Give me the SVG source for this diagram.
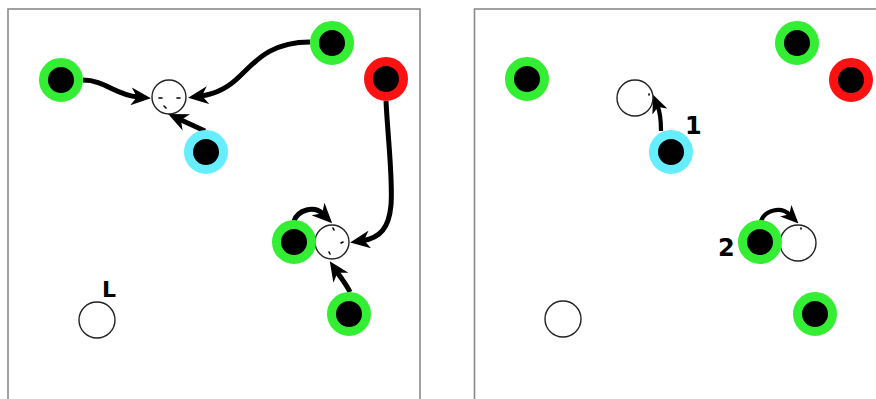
<svg xmlns="http://www.w3.org/2000/svg" width="876" height="399" viewBox="0 0 876 399">
<defs>
<style>
.panel{fill:#fff;stroke:#8a8a8a;stroke-width:1.6}
.robot{fill:#000;stroke-width:9}
.g{stroke:#33ee33}
.r{stroke:#ff1111}
.c{stroke:#66eeff}
.goal{fill:#fff;stroke:#222;stroke-width:1.4}
.edge{fill:none;stroke:#000;stroke-width:5;marker-end:url(#ah)}
.edge2{fill:none;stroke:#000;stroke-width:4.2;marker-end:url(#ah2)}
.tick{stroke:#000;stroke-width:1.6;stroke-linecap:round}
.lbl{font-family:"DejaVu Sans",sans-serif;font-weight:bold;fill:#000}
</style>
<marker id="ah" viewBox="0 0 20 18" markerWidth="20" markerHeight="18" refX="7" refY="9" orient="auto" markerUnits="userSpaceOnUse">
<path d="M0,0 L20,9 L0,18 L6,9 z" fill="#000"/>
</marker>
<marker id="ah2" viewBox="0 0 18 16" markerWidth="18" markerHeight="16" refX="6" refY="8" orient="auto" markerUnits="userSpaceOnUse">
<path d="M0,0 L18,8 L0,16 L5,8 z" fill="#000"/>
</marker>
</defs>
<rect x="0" y="0" width="876" height="399" fill="#fff"/>
<rect class="panel" x="8" y="9" width="412" height="400"/>
<rect class="panel" x="474.5" y="9" width="420" height="400"/>

<g id="connectors">
<path class="edge" d="M 83 80 C 105 80, 115 95, 138 97"/>
<path class="edge" d="M 310 42 C 270 42, 255 62, 240 76 C 228 88, 216 94, 201 96"/>
<path class="edge" d="M 205 131 L 180 119.5"/>
<path class="edge" d="M 386 101 C 388 140, 393 180, 391 205 C 389 228, 380 238, 363 240.5"/>
<path class="edge" d="M 350 292 C 346 284, 341 278, 337 272"/>
<path class="edge" d="M 294 221 C 298 210, 314 205, 323 214"/>
<path class="edge2" d="M 661 131 C 661 120, 660 112, 657.6 106"/>
<path class="edge2" d="M 761 221 C 765 210, 781 206, 790 215"/>
</g>

<g id="left-goal-1">
<circle class="goal" cx="169" cy="97" r="17"/>
<line class="tick" x1="159" y1="98" x2="162" y2="98"/>
<line class="tick" x1="177" y1="98" x2="180" y2="98"/>
<line class="tick" x1="164" y1="106" x2="166" y2="108"/>
</g>
<g id="left-goal-2">
<circle class="goal" cx="332" cy="242" r="17"/>
<line class="tick" x1="333" y1="228" x2="334" y2="230"/>
<line class="tick" x1="341" y1="243" x2="343" y2="242"/>
<line class="tick" x1="329" y1="252" x2="330" y2="254"/>
</g>
<g id="left-L">
<circle class="goal" cx="97" cy="320" r="18"/>
<text class="lbl" x="102" y="297" font-size="22">L</text>
</g>
<g id="left-green-1"><circle class="robot g" cx="61" cy="80" r="17.5"/></g>
<g id="left-green-2"><circle class="robot g" cx="332" cy="43" r="17.5"/></g>
<g id="left-red"><circle class="robot r" cx="386" cy="79" r="17.5"/></g>
<g id="left-cyan"><circle class="robot c" cx="206" cy="152" r="17.5"/></g>
<g id="left-green-3"><circle class="robot g" cx="294" cy="242" r="17.5"/></g>
<g id="left-green-4"><circle class="robot g" cx="349" cy="314" r="17.5"/></g>

<g id="right-goal-1">
<circle class="goal" cx="635" cy="98" r="18"/>
<line class="tick" x1="649" y1="94" x2="649" y2="95"/>
</g>
<g id="right-goal-2">
<circle class="goal" cx="798" cy="243" r="18"/>
<line class="tick" x1="801" y1="228" x2="801" y2="229"/>
</g>
<g id="right-goal-3"><circle class="goal" cx="563" cy="319" r="18"/></g>
<g id="right-green-1"><circle class="robot g" cx="527" cy="79" r="17.5"/></g>
<g id="right-green-2"><circle class="robot g" cx="797" cy="43" r="17.5"/></g>
<g id="right-red"><circle class="robot r" cx="851" cy="80" r="17.5"/></g>
<g id="right-cyan"><circle class="robot c" cx="671" cy="152" r="17.5"/></g>
<g id="right-green-3"><circle class="robot g" cx="760" cy="242" r="17.5"/></g>
<g id="right-green-4"><circle class="robot g" cx="815" cy="314" r="17.5"/></g>
<g id="labels">
<text class="lbl" x="685" y="134" font-size="24">1</text>
<text class="lbl" x="718" y="256" font-size="24">2</text>
</g>
</svg>
